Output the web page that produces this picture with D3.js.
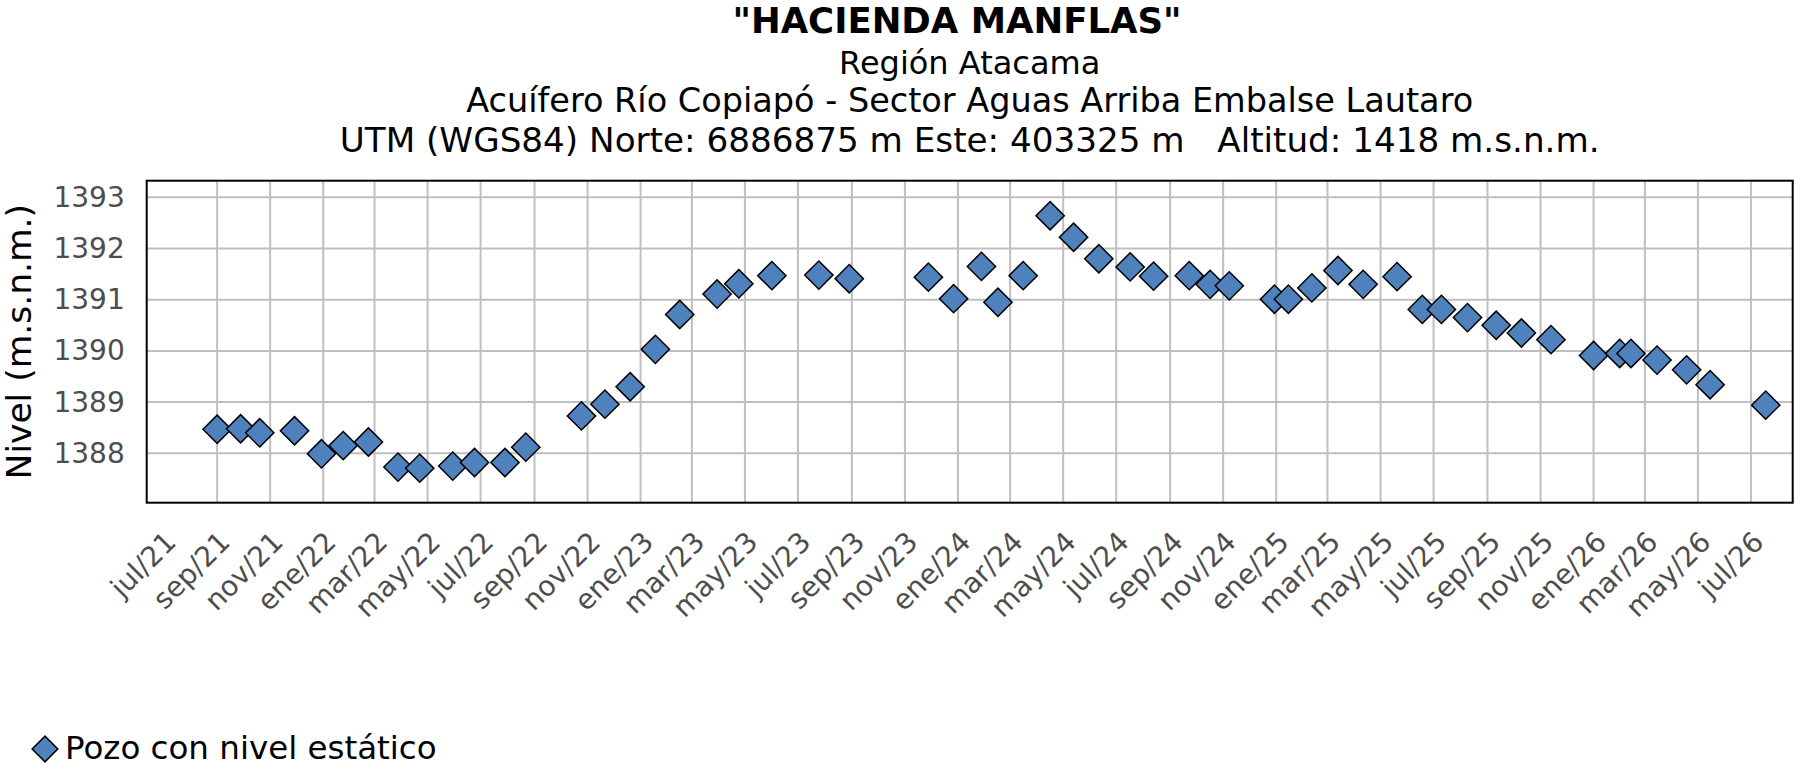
<!DOCTYPE html>
<html>
<head>
<meta charset="utf-8">
<script src="https://cdn.jsdelivr.net/npm/d3@7"></script>
<style>
    body { margin: 0; background: #fff; }
    svg { display: block; font-family: "DejaVu Sans", Verdana, sans-serif; }
    .grid line { stroke: #bfbfbf; stroke-width: 2; }
    .tickLabel { fill: #4d4d4d; font-size: 28px; }
</style>
</head>
<body>
<svg id="chart" width="1797" height="768"></svg>
<script>
// Chart data
const fechas = ["2021-09-01", "2021-09-28", "2021-10-20", "2021-11-29", "2021-12-30", "2022-01-24",
                "2022-02-22", "2022-03-28", "2022-04-22", "2022-05-30", "2022-06-24", "2022-07-29",
                "2022-08-22", "2022-10-25", "2022-11-21", "2022-12-20", "2023-01-18", "2023-02-15",
                "2023-03-30", "2023-04-24", "2023-06-01", "2023-07-25", "2023-08-29", "2023-11-28",
                "2023-12-27", "2024-01-28", "2024-02-16", "2024-03-16", "2024-04-16", "2024-05-13",
                "2024-06-11", "2024-07-17", "2024-08-13", "2024-09-23", "2024-10-17", "2024-11-08",
                "2024-12-30", "2025-01-15", "2025-02-11", "2025-03-13", "2025-04-11", "2025-05-20",
                "2025-06-18", "2025-07-10", "2025-08-09", "2025-09-11", "2025-10-10", "2025-11-13",
                "2026-01-01", "2026-01-31", "2026-02-13", "2026-03-15", "2026-04-18", "2026-05-15",
                "2026-07-18"];

const niveles = [1388.47, 1388.48, 1388.40, 1388.44, 1387.99, 1388.15,
                 1388.22, 1387.73, 1387.71, 1387.75, 1387.82, 1387.82,
                 1388.12, 1388.73, 1388.96, 1389.30, 1390.03, 1390.71,
                 1391.11, 1391.31, 1391.47, 1391.48, 1391.41, 1391.44,
                 1391.02, 1391.65, 1390.95, 1391.47, 1392.64, 1392.22,
                 1391.80, 1391.64, 1391.46, 1391.47, 1391.30, 1391.27,
                 1391.01, 1391.01, 1391.23, 1391.57, 1391.30, 1391.45,
                 1390.81, 1390.81, 1390.65, 1390.50, 1390.35, 1390.22,
                 1389.91, 1389.95, 1389.95, 1389.82, 1389.63, 1389.34,
                 1388.94];

const meses = ["ene", "feb", "mar", "abr", "may", "jun", "jul", "ago", "sep", "oct", "nov", "dic"];

const xTickLabels = ["jul/21", "sep/21", "nov/21", "ene/22", "mar/22", "may/22", "jul/22", "sep/22",
                     "nov/22", "ene/23", "mar/23", "may/23", "jul/23", "sep/23", "nov/23", "ene/24",
                     "mar/24", "may/24", "jul/24", "sep/24", "nov/24", "ene/25", "mar/25", "may/25",
                     "jul/25", "sep/25", "nov/25", "ene/26", "mar/26", "may/26", "jul/26"];

const yTicks = [1388, 1389, 1390, 1391, 1392, 1393];
const yDomain = [1387.035, 1393.324];
const xDomain = ["2021-06-12", "2026-08-18"];

const titulo = "\"HACIENDA MANFLAS\"";
const subtitulos = ["Región Atacama",
                    "Acuífero Río Copiapó - Sector Aguas Arriba Embalse Lautaro",
                    "UTM (WGS84) Norte: 6886875 m Este: 403325 m   Altitud: 1418 m.s.n.m."];
const yTitulo = "Nivel (m.s.n.m.)";
const leyenda = "Pozo con nivel estático";

// Layout
const plot = { left: 146.7, top: 180.7, right: 1792.7, bottom: 502.7 };
const fill = "#4f81bd";

const parseDate = d3.utcParse("%Y-%m-%d");

// "sep/21" -> Date
function parseTickLabel(label) {
    let parts = label.split("/");
    return new Date(Date.UTC(2000 + +parts[1], meses.indexOf(parts[0]), 1));
}

let data = fechas.map((f, i) => ({ date: parseDate(f), value: niveles[i] }));
let tickDates = xTickLabels.map(parseTickLabel);

let x = d3.scaleUtc()
          .domain(xDomain.map(parseDate))
          .range([plot.left, plot.right]);

let y = d3.scaleLinear()
          .domain(yDomain)
          .range([plot.bottom, plot.top]);

let svg = d3.select("#chart");

render();

// Main render method
function render() {
    drawTitles();
    drawGrid();
    drawAxes();
    drawPoints();
    drawLegend();
}

// Title block above the plot
function drawTitles() {
    let cx = (plot.left + plot.right) / 2;

    svg.append("text")
       .attr("x", 957)
       .attr("y", 33)
       .attr("text-anchor", "middle")
       .attr("font-size", 35.5)
       .attr("font-weight", "bold")
       .text(titulo);

    // each line has its own size so the widths follow the reference
    let lineY = [74, 112, 152];
    let lineSize = [32, 33.5, 34.2];

    svg.selectAll("text.subtitle")
       .data(subtitulos)
       .enter()
       .append("text")
       .attr("class", "subtitle")
       .attr("x", cx)
       .attr("y", (d, i) => lineY[i])
       .attr("text-anchor", "middle")
       .attr("font-size", (d, i) => lineSize[i])
       .style("white-space", "pre")
       .text((d) => d);
}

// Gridlines (the reference shows no line at the first tick)
function drawGrid() {
    svg.append("g")
       .attr("class", "grid")
       .selectAll("line.h")
       .data(yTicks)
       .enter()
       .append("line")
       .attr("x1", plot.left)
       .attr("x2", plot.right)
       .attr("y1", (d) => y(d))
       .attr("y2", (d) => y(d));

    svg.append("g")
       .attr("class", "grid")
       .selectAll("line.v")
       .data(tickDates.slice(1))
       .enter()
       .append("line")
       .attr("x1", (d) => x(d))
       .attr("x2", (d) => x(d))
       .attr("y1", plot.top)
       .attr("y2", plot.bottom);

    svg.append("rect")
       .attr("x", plot.left)
       .attr("y", plot.top)
       .attr("width", plot.right - plot.left)
       .attr("height", plot.bottom - plot.top)
       .attr("fill", "none")
       .attr("stroke", "#000")
       .attr("stroke-width", 2);
}

// Strip the defaults d3.axis puts on its group so the css class applies
function plainAxis(g) {
    g.attr("font-family", null)
     .attr("font-size", null);
    g.select(".domain").remove();
    g.selectAll("text")
     .attr("class", "tickLabel")
     .attr("fill", null);
}

// Y and X axes with their labels
function drawAxes() {
    svg.append("g")
       .attr("transform", `translate(${plot.left},0)`)
       .call(d3.axisLeft(y).tickValues(yTicks).tickSize(0).tickPadding(22).tickFormat(d3.format("d")))
       .call(plainAxis);

    svg.append("g")
       .attr("transform", `translate(0,${plot.bottom})`)
       .call(d3.axisBottom(x).tickValues(tickDates).tickSize(0).tickFormat((d, i) => xTickLabels[i]))
       .call(plainAxis)
       .selectAll("text")
       .attr("y", 0)
       .attr("dy", 0)
       .attr("text-anchor", "end")
       .attr("transform", "translate(14,41) rotate(-45)");

    svg.append("text")
       .attr("transform", `translate(31,${(plot.top + plot.bottom) / 2}) rotate(-90)`)
       .attr("text-anchor", "middle")
       .attr("font-size", 34.5)
       .text(yTitulo);
}

// Diamond markers
function drawPoints() {
    let diamond = d3.symbol().type(d3.symbolSquare).size(400);

    svg.append("g")
       .selectAll("path")
       .data(data)
       .enter()
       .append("path")
       .attr("d", diamond)
       .attr("transform", (d) => `translate(${x(d.date)},${y(d.value)}) rotate(45)`)
       .attr("fill", fill)
       .attr("stroke", "#000")
       .attr("stroke-width", 1.5);
}

// Legend at the bottom left
function drawLegend() {
    svg.append("path")
       .attr("d", d3.symbol().type(d3.symbolSquare).size(330))
       .attr("transform", "translate(45,749) rotate(45)")
       .attr("fill", fill)
       .attr("stroke", "#000")
       .attr("stroke-width", 1.5);

    svg.append("text")
       .attr("x", 65)
       .attr("y", 759)
       .attr("font-size", 32.5)
       .text(leyenda);
}
</script>
</body>
</html>
